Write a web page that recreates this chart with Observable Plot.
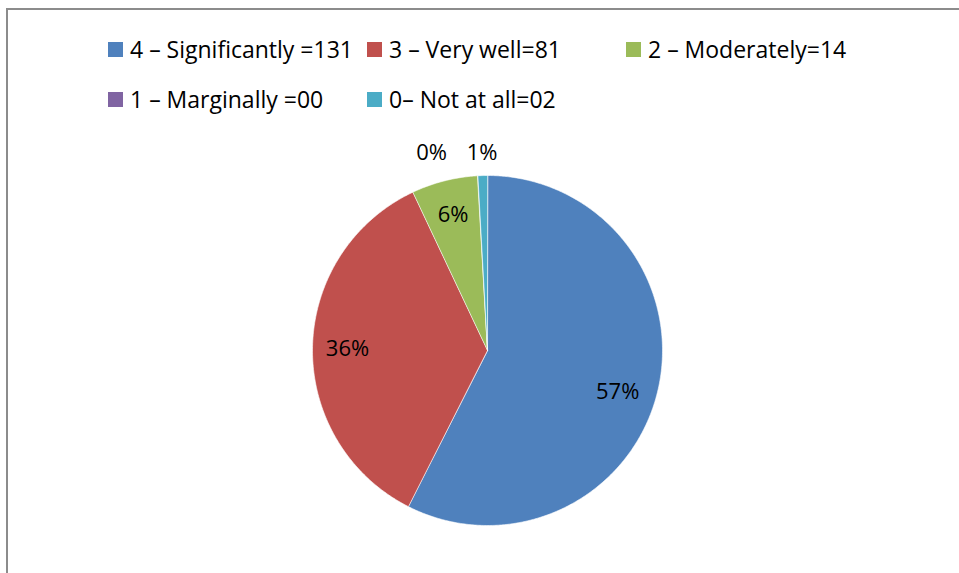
<!DOCTYPE html>
<html>
<head>
<meta charset="utf-8">
<script src="https://cdn.jsdelivr.net/npm/d3@7"></script>
<script src="https://cdn.jsdelivr.net/npm/@observablehq/plot@0.6"></script>
<style>
  html, body { margin: 0; padding: 0; background: #fff; }
  #wrap { position: relative; width: 959px; height: 573px; overflow: hidden; font-family: "Open Sans", "Liberation Sans", Arial, sans-serif; }
  #frame { position: absolute; left: 6px; top: 8px; width: 1000px; height: 1000px; border-left: 2px solid #8c8c8c; border-top: 2px solid #8c8c8c; box-sizing: border-box; }
  #chart { position: absolute; left: 0; top: 0; }
  .leg { position: absolute; display: flex; align-items: center; font-size: 23px; line-height: 26px; color: #000; white-space: nowrap; }
  .sw { width: 15px; height: 15px; margin-right: 7px; }
</style>
</head>
<body>
<div id="wrap">
  <div id="frame"></div>
  <div id="chart"></div>
  <div id="legend"></div>
</div>
<script>
// ---- data ----
const categories = ["4 – Significantly", "3 – Very well", "2 – Moderately", "1 – Marginally", "0 – Not at all"];
const legendLabels = ["4 – Significantly =131", "3 – Very well=81", "2 – Moderately=14", "1 – Marginally =00", "0– Not at all=02"];
const counts = [131, 81, 14, 0, 2];
const percentLabels = ["57%", "36%", "6%", "0%", "1%"];

// ---- style ----
const colors = ["#4F81BD", "#C0504D", "#9BBB59", "#8064A2", "#4BACC6"];

const data = categories.map((c, i) => ({category: c, value: counts[i], label: percentLabels[i]}));
const arcs = d3.pie().sort(null).value(d => d.value)(data);

// polygon points in unit coordinates (angle 0 at top, clockwise)
const pts = [];
arcs.forEach(a => {
  const key = a.data.category;
  pts.push({key, x: 0, y: 0});
  const n = Math.max(2, Math.ceil((a.endAngle - a.startAngle) / (Math.PI / 360)));
  for (let k = 0; k <= n; k++) {
    const t = a.startAngle + (a.endAngle - a.startAngle) * k / n;
    pts.push({key, x: Math.sin(t), y: Math.cos(t)});
  }
});

// labels
const total = d3.sum(counts);
const labels = arcs.map((a, i) => {
  const mid = (a.startAngle + a.endAngle) / 2;
  const small = a.data.value / total < 0.03;
  const r = small ? 1.13 : 0.8;
  return {x: Math.sin(mid) * r, y: Math.cos(mid) * r, text: a.data.label, small, i};
});
// resolve collision between the two small outside labels: shift earlier one left
const smalls = labels.filter(l => l.small);
const dxs = labels.map(l => 0);
if (smalls.length === 2) dxs[smalls[0].i] = -45;

const plot = Plot.plot({
  width: 959,
  height: 573,
  marginLeft: 312,
  marginRight: 297,
  marginTop: 175,
  marginBottom: 48,
  x: {domain: [-1, 1], axis: null},
  y: {domain: [-1, 1], axis: null},
  color: {domain: categories, range: colors},
  style: {background: "transparent", fontFamily: "Open Sans, Liberation Sans, Arial, sans-serif"},
  marks: [
    Plot.line(pts, {x: "x", y: "y", z: "key", fill: "key", stroke: "white", strokeWidth: 0.6, curve: "linear-closed"}),
    ...labels.map(l => Plot.text([l], {x: "x", y: "y", text: "text", fontSize: 22, fill: "#000", dx: dxs[l.i] + (l.i === 0 ? -6 : 0), dy: l.i === 0 ? 9 : 0}))
  ]
});
document.getElementById("chart").appendChild(plot);

// legend
const legendPos = [
  {left: 108, top: 36}, {left: 367, top: 36}, {left: 626, top: 36},
  {left: 108, top: 86}, {left: 367, top: 86}
];
const leg = document.getElementById("legend");
legendLabels.forEach((t, i) => {
  const d = document.createElement("div");
  d.className = "leg";
  d.style.left = legendPos[i].left + "px";
  d.style.top = legendPos[i].top + "px";
  const s = document.createElement("div");
  s.className = "sw";
  s.style.background = colors[i];
  d.appendChild(s);
  const span = document.createElement("span");
  span.textContent = t;
  d.appendChild(span);
  leg.appendChild(d);
});
</script>
</body>
</html>
